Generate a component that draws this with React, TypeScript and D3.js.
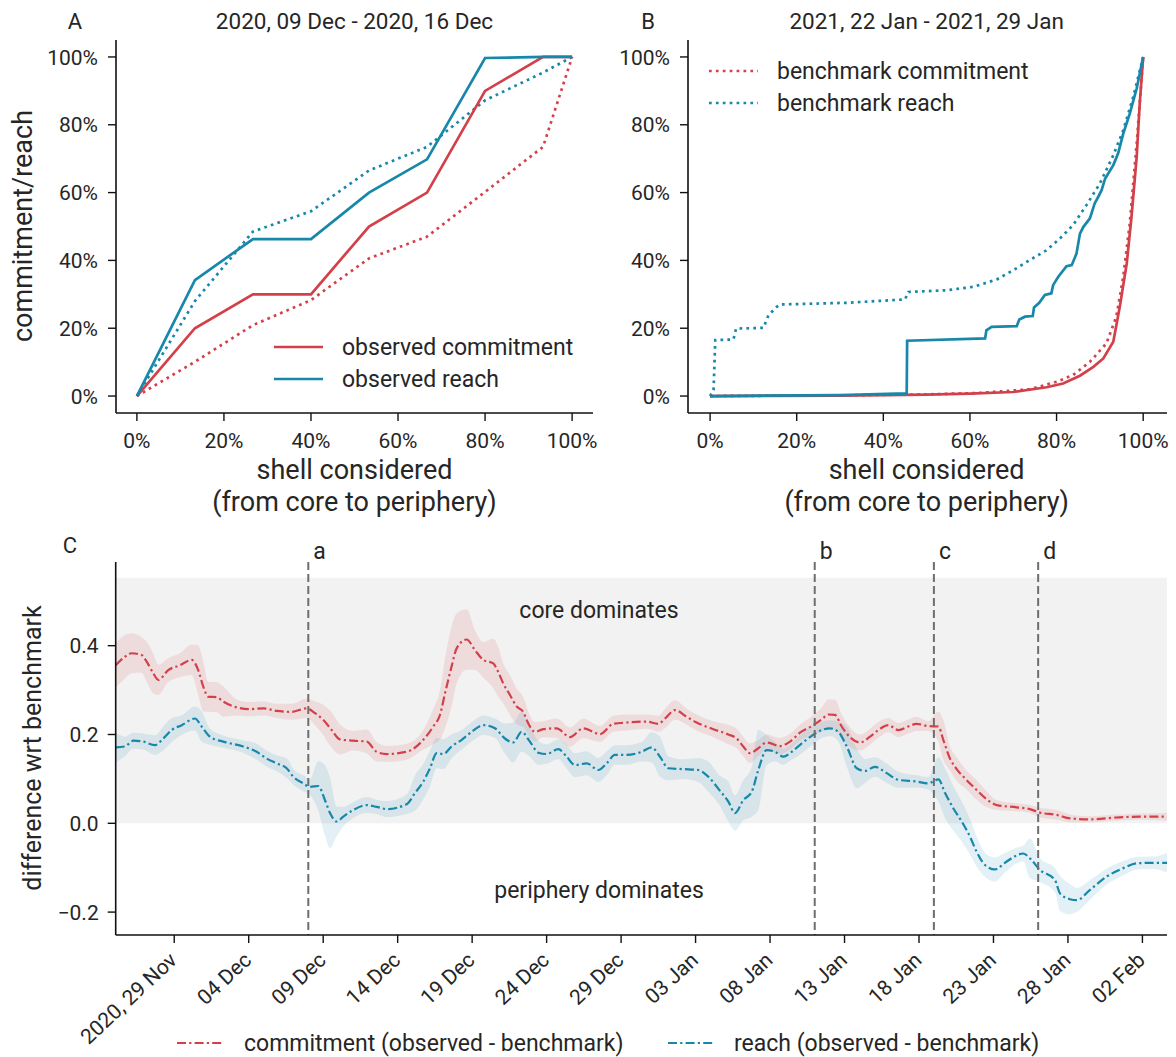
import React from "react";
import * as d3 from "d3";

const FONT = "Roboto, 'Noto Sans', sans-serif";
const RED = "#d3404a";
const BLUE = "#1787aa";
const TXT = "#262626";

// ---------- Panel A (2020, 09 Dec - 2020, 16 Dec) ----------
const shareA = [0, 2 / 15, 4 / 15, 6 / 15, 8 / 15, 10 / 15, 12 / 15, 14 / 15, 1];
const obsCommitA = [0, 0.2, 0.3, 0.3, 0.5, 0.6, 0.9, 1.0, 1.0];
const obsReachA = [0, 0.342, 0.463, 0.463, 0.6, 0.698, 0.997, 1.0, 1.0];
const benchCommitA = [0, 0.101, 0.209, 0.283, 0.406, 0.47, 0.602, 0.735, 1.0];
const benchReachA = [0, 0.28, 0.485, 0.545, 0.665, 0.735, 0.872, 0.954, 1.0];

// ---------- Panel B (2021, 22 Jan - 2021, 29 Jan) ----------
const obsReachBx = [0, 0.3, 0.454, 0.455, 0.635, 0.638, 0.65, 0.708, 0.714, 0.727, 0.745, 0.748, 0.76, 0.773, 0.788, 0.792, 0.804, 0.823, 0.835, 0.846, 0.854, 0.862, 0.877, 0.888, 0.896, 0.904, 0.912, 0.931, 0.942, 0.954, 0.969, 0.985, 1.0];
const obsReachBy = [0, 0.003, 0.008, 0.163, 0.17, 0.194, 0.204, 0.206, 0.226, 0.234, 0.236, 0.261, 0.275, 0.298, 0.303, 0.327, 0.352, 0.383, 0.386, 0.42, 0.479, 0.499, 0.524, 0.568, 0.587, 0.607, 0.641, 0.681, 0.715, 0.774, 0.833, 0.907, 1.0];
const obsCommitBx = [0, 0.3, 0.5, 0.6, 0.7, 0.777, 0.815, 0.854, 0.885, 0.908, 0.931, 0.946, 0.962, 0.973, 0.985, 0.992, 1.0];
const obsCommitBy = [0, 0.001, 0.004, 0.007, 0.012, 0.026, 0.037, 0.06, 0.086, 0.111, 0.16, 0.263, 0.391, 0.528, 0.705, 0.862, 1.0];
const benchCommitBx = [0, 0.3, 0.5, 0.62, 0.738, 0.8, 0.838, 0.877, 0.915, 0.938, 0.954, 0.969, 0.985, 1.0];
const benchCommitBy = [0, 0.002, 0.005, 0.009, 0.02, 0.042, 0.062, 0.101, 0.155, 0.234, 0.352, 0.509, 0.745, 1.0];
const benchReachBx = [0, 0.008, 0.012, 0.054, 0.06, 0.123, 0.135, 0.154, 0.162, 0.315, 0.45, 0.458, 0.546, 0.608, 0.662, 0.7, 0.738, 0.777, 0.808, 0.838, 0.869, 0.9, 0.931, 0.954, 0.977, 1.0];
const benchReachBy = [0, 0.018, 0.165, 0.167, 0.199, 0.201, 0.239, 0.263, 0.27, 0.275, 0.285, 0.307, 0.312, 0.322, 0.344, 0.371, 0.401, 0.43, 0.465, 0.504, 0.563, 0.627, 0.71, 0.784, 0.882, 1.0];

const pctTicks = [0, 0.2, 0.4, 0.6, 0.8, 1.0];
const pctLabels = ["0%", "20%", "40%", "60%", "80%", "100%"];

// ---------- Panel C (difference wrt benchmark) ----------
// days from 2020-11-29 00:00 UTC
const commitDays = [-3.93, -3.42, -2.86, -2.19, -1.85, -1.41, -1.07, -0.4, 0.38, 1.17, 1.61, 1.95, 2.28, 2.85, 3.29, 4.19, 5.08, 5.98, 6.87, 7.88, 8.89, 9.45, 10.0, 10.57, 11.12, 12.02, 12.92, 13.59, 14.26, 15.6, 16.72, 17.39, 17.84, 18.18, 18.62, 18.96, 19.63, 20.19, 20.75, 21.42, 21.75, 22.09, 22.54, 22.99, 23.43, 23.77, 24.22, 24.77, 25.67, 26.57, 27.46, 28.58, 29.47, 30.37, 31.72, 32.5, 32.95, 33.62, 34.4, 35.07, 36.19, 37.2, 37.76, 38.2, 38.65, 39.21, 39.77, 40.67, 41.34, 42.01, 42.8, 43.47, 43.91, 44.36, 44.81, 45.37, 46.04, 46.71, 47.27, 47.94, 48.61, 49.28, 49.84, 50.62, 51.3, 51.63, 52.08, 52.53, 53.09, 53.87, 54.55, 55.22, 56.56, 57.45, 58.12, 59.24, 60.14, 61.48, 63.27, 64.84, 66.65];
const commitDiff = [0.356, 0.372, 0.383, 0.379, 0.364, 0.338, 0.323, 0.345, 0.356, 0.368, 0.345, 0.308, 0.285, 0.284, 0.274, 0.261, 0.257, 0.259, 0.253, 0.251, 0.259, 0.248, 0.233, 0.21, 0.189, 0.186, 0.184, 0.161, 0.156, 0.161, 0.188, 0.218, 0.244, 0.293, 0.353, 0.394, 0.414, 0.39, 0.368, 0.36, 0.341, 0.315, 0.289, 0.263, 0.251, 0.225, 0.206, 0.212, 0.214, 0.194, 0.214, 0.201, 0.224, 0.227, 0.229, 0.224, 0.236, 0.255, 0.24, 0.227, 0.212, 0.2, 0.191, 0.173, 0.158, 0.169, 0.182, 0.174, 0.184, 0.204, 0.219, 0.234, 0.245, 0.244, 0.218, 0.194, 0.182, 0.195, 0.21, 0.221, 0.21, 0.218, 0.224, 0.219, 0.218, 0.188, 0.146, 0.122, 0.101, 0.075, 0.054, 0.041, 0.036, 0.032, 0.024, 0.019, 0.011, 0.009, 0.013, 0.015, 0.015];
const commitSpread = [0.05, 0.05, 0.045, 0.04, 0.045, 0.045, 0.034, 0.027, 0.027, 0.034, 0.056, 0.056, 0.034, 0.034, 0.034, 0.018, 0.016, 0.016, 0.016, 0.018, 0.022, 0.027, 0.034, 0.04, 0.034, 0.022, 0.027, 0.022, 0.018, 0.018, 0.022, 0.04, 0.056, 0.079, 0.09, 0.079, 0.068, 0.045, 0.04, 0.056, 0.056, 0.045, 0.045, 0.04, 0.034, 0.027, 0.022, 0.018, 0.022, 0.022, 0.022, 0.018, 0.018, 0.018, 0.016, 0.018, 0.022, 0.022, 0.018, 0.018, 0.018, 0.022, 0.022, 0.022, 0.022, 0.018, 0.018, 0.018, 0.018, 0.018, 0.022, 0.027, 0.034, 0.034, 0.027, 0.022, 0.018, 0.018, 0.018, 0.016, 0.016, 0.016, 0.016, 0.011, 0.034, 0.045, 0.027, 0.027, 0.022, 0.022, 0.018, 0.011, 0.009, 0.009, 0.011, 0.011, 0.009, 0.007, 0.007, 0.007, 0.009];

const reachDays = [-3.93, -3.31, -2.75, -2.08, -1.3, -0.74, -0.17, 0.5, 1.39, 1.84, 2.4, 3.29, 4.63, 5.53, 6.2, 6.87, 7.55, 7.99, 8.66, 9.11, 9.67, 10.12, 10.46, 10.9, 11.35, 12.02, 12.92, 13.59, 14.26, 15.6, 16.16, 16.72, 17.17, 17.62, 18.06, 18.62, 19.3, 19.97, 20.75, 21.53, 22.2, 22.76, 23.32, 23.88, 24.44, 25.0, 25.78, 26.35, 26.9, 27.69, 28.47, 29.03, 29.59, 30.37, 31.38, 32.05, 32.61, 33.17, 34.17, 35.18, 35.85, 36.64, 37.2, 37.65, 38.2, 38.77, 39.21, 39.77, 40.33, 40.89, 41.45, 42.13, 42.8, 43.47, 44.03, 44.58, 45.15, 45.82, 46.37, 47.04, 47.83, 48.61, 49.84, 50.62, 51.3, 51.75, 52.3, 52.87, 53.42, 53.87, 54.43, 55.1, 55.77, 56.45, 57.0, 57.45, 58.12, 59.13, 59.47, 60.14, 60.59, 61.48, 62.6, 63.72, 64.62, 65.73, 66.65];
const reachDiff = [0.171, 0.173, 0.186, 0.184, 0.176, 0.191, 0.21, 0.221, 0.236, 0.218, 0.195, 0.184, 0.173, 0.161, 0.146, 0.135, 0.124, 0.105, 0.09, 0.082, 0.084, 0.052, 0.023, 0.004, 0.015, 0.03, 0.041, 0.037, 0.032, 0.043, 0.068, 0.094, 0.124, 0.158, 0.156, 0.173, 0.188, 0.206, 0.221, 0.214, 0.191, 0.182, 0.206, 0.184, 0.159, 0.156, 0.167, 0.15, 0.131, 0.135, 0.12, 0.135, 0.154, 0.154, 0.161, 0.171, 0.15, 0.124, 0.122, 0.12, 0.105, 0.073, 0.049, 0.023, 0.052, 0.071, 0.12, 0.165, 0.161, 0.15, 0.161, 0.18, 0.197, 0.21, 0.214, 0.206, 0.173, 0.124, 0.118, 0.127, 0.113, 0.098, 0.094, 0.09, 0.099, 0.068, 0.034, 0.004, -0.03, -0.064, -0.094, -0.104, -0.089, -0.074, -0.068, -0.079, -0.105, -0.128, -0.158, -0.171, -0.173, -0.15, -0.12, -0.101, -0.09, -0.089, -0.089];
const reachSpread = [0.034, 0.022, 0.018, 0.018, 0.022, 0.027, 0.027, 0.022, 0.027, 0.034, 0.018, 0.014, 0.014, 0.018, 0.018, 0.018, 0.022, 0.018, 0.018, 0.018, 0.056, 0.079, 0.079, 0.034, 0.022, 0.018, 0.018, 0.016, 0.018, 0.022, 0.04, 0.04, 0.04, 0.034, 0.034, 0.027, 0.022, 0.022, 0.022, 0.022, 0.034, 0.045, 0.045, 0.034, 0.027, 0.022, 0.022, 0.027, 0.027, 0.027, 0.027, 0.027, 0.022, 0.022, 0.022, 0.034, 0.045, 0.027, 0.022, 0.027, 0.034, 0.034, 0.045, 0.04, 0.045, 0.056, 0.09, 0.034, 0.022, 0.018, 0.018, 0.022, 0.022, 0.018, 0.018, 0.022, 0.045, 0.045, 0.027, 0.022, 0.022, 0.018, 0.014, 0.014, 0.05, 0.056, 0.05, 0.045, 0.04, 0.034, 0.027, 0.027, 0.022, 0.018, 0.018, 0.045, 0.027, 0.027, 0.04, 0.034, 0.027, 0.022, 0.018, 0.016, 0.014, 0.014, 0.022];

const markerDates = ["2020-12-08T00:00:00Z", "2021-01-11T00:00:00Z", "2021-01-19T00:00:00Z", "2021-01-26T00:00:00Z"];
const markerLabels = ["a", "b", "c", "d"];
const dateTickLabels = ["2020, 29 Nov", "04 Dec", "09 Dec", "14 Dec", "19 Dec", "24 Dec", "29 Dec", "03 Jan", "08 Jan", "13 Jan", "18 Jan", "23 Jan", "28 Jan", "02 Feb"];
const diffTicks = [-0.2, 0.0, 0.2, 0.4];
const diffTickLabels = ["\u22120.2", "0.0", "0.2", "0.4"];
const coreBandTop = 0.553;

const BASE = Date.UTC(2020, 10, 29);
const dayToDate = (d: number) => new Date(BASE + d * 86400000);

type Pt = { x: number; y: number };
const zipPts = (xs: number[], ys: number[]): Pt[] => xs.map((x, i) => ({ x, y: ys[i] }));

const TICK_FS = 21;
const LABEL_FS = 27;
const LEG_FS = 23;

function CurvePanel(props: {
  x1: number; xDom: [number, number]; yAxisX: number;
  series: { pts: Pt[]; color: string; dotted: boolean }[];
  letter: string; letterX: number; title: string;
  legend: { label: string; color: string; dotted: boolean }[]; legX: number; legY: number;
}) {
  const { xDom, series } = props;
  const x = d3.scaleLinear().domain(xDom).range([props.yAxisX, props.x1]);
  const y = d3.scaleLinear().domain([-0.05, 1.05]).range([413, 40]);
  const line = d3.line<Pt>().x((d) => x(d.x)).y((d) => y(d.y));
  const cx = (x(0) + x(1)) / 2;
  return (
    <g>
      <text x={props.letterX} y={29} fontSize={22} fill={TXT} textAnchor="middle">{props.letter}</text>
      <text x={cx} y={29} fontSize={22.5} fill={TXT} textAnchor="middle">{props.title}</text>
      {series.map((s, i) => (
        <path key={i} d={line(s.pts) || ""} fill="none" stroke={s.color} strokeWidth={2.7}
          strokeDasharray={s.dotted ? "2.7,4.2" : undefined} />
      ))}
      <line x1={props.yAxisX} x2={props.yAxisX} y1={40} y2={413} stroke="#111" strokeWidth={1.6} />
      <line x1={props.yAxisX} x2={props.x1} y1={413} y2={413} stroke="#111" strokeWidth={1.6} />
      {pctTicks.map((t, i) => (
        <g key={"y" + i}>
          <line x1={props.yAxisX - 8} x2={props.yAxisX} y1={y(t)} y2={y(t)} stroke="#111" strokeWidth={1.4} />
          <text x={props.yAxisX - 18} y={y(t)} dy="0.36em" fontSize={TICK_FS} fill={TXT} textAnchor="end">{pctLabels[i]}</text>
        </g>
      ))}
      {pctTicks.map((t, i) => (
        <g key={"x" + i}>
          <line x1={x(t)} x2={x(t)} y1={413} y2={421} stroke="#111" strokeWidth={1.4} />
          <text x={x(t)} y={448} fontSize={TICK_FS} fill={TXT} textAnchor="middle">{pctLabels[i]}</text>
        </g>
      ))}
      <text x={cx} y={479} fontSize={LABEL_FS} fill={TXT} textAnchor="middle">shell considered</text>
      <text x={cx} y={511} fontSize={LABEL_FS} fill={TXT} textAnchor="middle">(from core to periphery)</text>
      {props.legend.map((l, i) => (
        <g key={"l" + i}>
          <line x1={props.legX} x2={props.legX + 49} y1={props.legY + i * 32} y2={props.legY + i * 32}
            stroke={l.color} strokeWidth={2.7} strokeDasharray={l.dotted ? "2.7,4.2" : undefined} />
          <text x={props.legX + 68} y={props.legY + i * 32} dy="0.35em" fontSize={LEG_FS} fill={TXT}>{l.label}</text>
        </g>
      ))}
    </g>
  );
}

type DPt = { d: Date; v: number; s: number };

function DiffPanel() {
  const x0 = 115.7, x1 = 1167, yTop = 562, yBot = 935;
  const red: DPt[] = commitDays.map((t, i) => ({ d: dayToDate(t), v: commitDiff[i], s: commitSpread[i] }));
  const blue: DPt[] = reachDays.map((t, i) => ({ d: dayToDate(t), v: reachDiff[i], s: reachSpread[i] }));
  const x = d3.scaleUtc().domain([dayToDate(-3.93), dayToDate(66.65)]).range([x0, x1]);
  const y = d3.scaleLinear().domain([-0.2516, 0.5885]).range([yBot, yTop]);
  const line = d3.line<DPt>().x((p) => x(p.d)).y((p) => y(p.v)).curve(d3.curveMonotoneX);
  const area = d3.area<DPt>().x((p) => x(p.d)).y0((p) => y(p.v - p.s)).y1((p) => y(p.v + p.s)).curve(d3.curveMonotoneX);
  const tickDates = d3.utcDay.range(dayToDate(0), dayToDate(66), 5);
  const dash = "9,3.2,2.2,3.2";
  return (
    <g>
      <rect x={x0} y={y(coreBandTop)} width={x1 - x0} height={y(0) - y(coreBandTop)} fill="#f2f2f2" />
      <path d={area(red) || ""} fill={RED} fillOpacity={0.12} />
      <path d={area(blue) || ""} fill={BLUE} fillOpacity={0.12} />
      <path d={line(red) || ""} fill="none" stroke={RED} strokeWidth={2.2} strokeDasharray={dash} />
      <path d={line(blue) || ""} fill="none" stroke={BLUE} strokeWidth={2.2} strokeDasharray={dash} />
      <text x={599} y={618} fontSize={LEG_FS} fill={TXT} textAnchor="middle">core dominates</text>
      <text x={599} y={898} fontSize={LEG_FS} fill={TXT} textAnchor="middle">periphery dominates</text>
      {markerDates.map((m, i) => {
        const mx = x(new Date(m));
        return (
          <g key={m}>
            <line x1={mx} x2={mx} y1={yTop} y2={yBot} stroke="#6e6e6e" strokeWidth={2} strokeDasharray="8,4" />
            <text x={mx + 5} y={559} fontSize={23} fill={TXT}>{markerLabels[i]}</text>
          </g>
        );
      })}
      <line x1={x0} x2={x0} y1={yTop} y2={yBot} stroke="#111" strokeWidth={1.6} />
      <line x1={x0} x2={x1} y1={yBot} y2={yBot} stroke="#111" strokeWidth={1.6} />
      {diffTicks.map((t, i) => (
        <g key={"dy" + i}>
          <line x1={x0 - 8} x2={x0} y1={y(t)} y2={y(t)} stroke="#111" strokeWidth={1.4} />
          <text x={x0 - 17} y={y(t)} dy="0.36em" fontSize={TICK_FS} fill={TXT} textAnchor="end">{diffTickLabels[i]}</text>
        </g>
      ))}
      {tickDates.map((d, i) => (
        <g key={"dx" + i}>
          <line x1={x(d)} x2={x(d)} y1={yBot} y2={yBot + 8} stroke="#111" strokeWidth={1.4} />
          <text transform={`translate(${x(d) - 6},${yBot + 16}) rotate(-43)`} fontSize={TICK_FS} fill={TXT}
            textAnchor="end" dy="0.7em">{dateTickLabels[i]}</text>
        </g>
      ))}
      <text transform={`translate(41,748) rotate(-90)`} fontSize={25} fill={TXT} textAnchor="middle">difference wrt benchmark</text>
      <text x={70} y={553} fontSize={22} fill={TXT} textAnchor="middle">C</text>
      <line x1={177} x2={224} y1={1043} y2={1043} stroke={RED} strokeWidth={2.2} strokeDasharray={dash} />
      <text x={244} y={1043} dy="0.35em" fontSize={LEG_FS} fill={TXT}>commitment (observed - benchmark)</text>
      <line x1={668} x2={714} y1={1043} y2={1043} stroke={BLUE} strokeWidth={2.2} strokeDasharray={dash} />
      <text x={734} y={1043} dy="0.35em" fontSize={LEG_FS} fill={TXT}>reach (observed - benchmark)</text>
    </g>
  );
}

export default function App() {
  return (
    <svg width={1176} height={1057} viewBox="0 0 1176 1057"
      style={{ position: "absolute", left: 0, top: 0, display: "block", background: "#fff", fontFamily: FONT }}>
      <CurvePanel x1={593} xDom={[-0.048, 1.048]} yAxisX={116}
        series={[
          { pts: zipPts(shareA, benchCommitA), color: RED, dotted: true },
          { pts: zipPts(shareA, benchReachA), color: BLUE, dotted: true },
          { pts: zipPts(shareA, obsCommitA), color: RED, dotted: false },
          { pts: zipPts(shareA, obsReachA), color: BLUE, dotted: false },
        ]}
        letter="A" letterX={75} title="2020, 09 Dec - 2020, 16 Dec"
        legend={[
          { label: "observed commitment", color: RED, dotted: false },
          { label: "observed reach", color: BLUE, dotted: false },
        ]} legX={274} legY={347} />
      <CurvePanel x1={1167} xDom={[-0.051, 1.055]} yAxisX={688}
        series={[
          { pts: zipPts(benchCommitBx, benchCommitBy), color: RED, dotted: true },
          { pts: zipPts(benchReachBx, benchReachBy), color: BLUE, dotted: true },
          { pts: zipPts(obsCommitBx, obsCommitBy), color: RED, dotted: false },
          { pts: zipPts(obsReachBx, obsReachBy), color: BLUE, dotted: false },
        ]}
        letter="B" letterX={648} title="2021, 22 Jan - 2021, 29 Jan"
        legend={[
          { label: "benchmark commitment", color: RED, dotted: true },
          { label: "benchmark reach", color: BLUE, dotted: true },
        ]} legX={709} legY={71} />
      <text transform="translate(32,226) rotate(-90)" fontSize={LABEL_FS} fill={TXT} textAnchor="middle">commitment/reach</text>
      <DiffPanel />
    </svg>
  );
}
